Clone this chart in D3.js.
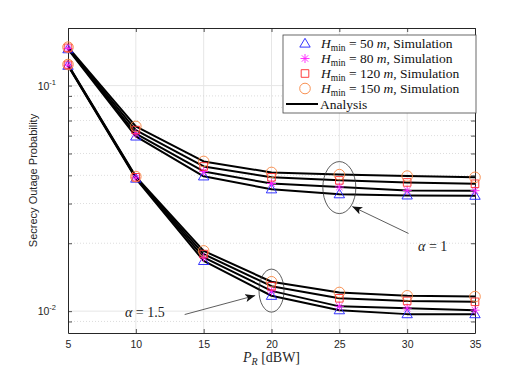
<!DOCTYPE html>
<html>
<head>
<meta charset="utf-8">
<script src="https://cdn.jsdelivr.net/npm/d3@7"></script>
<style>
  body { margin: 0; background: #fff; }
  svg { display: block; }
</style>
</head>
<body>
<div id="chart"></div>
<script>
// secrecy outage probability vs relay power

var pr = [5, 10, 15, 20, 25, 30, 35];
var hminLabels = ['50', '80', '120', '150'];

// alpha = 1
var a1H50 = [0.145, 0.0595, 0.0396, 0.0347, 0.0330, 0.0326, 0.0325];
var a1H80 = [0.146, 0.0613, 0.0416, 0.0368, 0.0355, 0.0343, 0.0342];
var a1H120 = [0.147, 0.0635, 0.0438, 0.0392, 0.0380, 0.0372, 0.0367];
var a1H150 = [0.148, 0.0659, 0.0461, 0.0412, 0.0403, 0.0397, 0.0392];

// alpha = 1.5
var a15H50 = [0.1225, 0.0387, 0.0167, 0.0117, 0.0101, 0.0097, 0.0097];
var a15H80 = [0.1230, 0.0390, 0.0173, 0.0123, 0.0105, 0.0103, 0.0101];
var a15H120 = [0.1235, 0.0392, 0.0179, 0.0129, 0.0114, 0.0111, 0.0110];
var a15H150 = [0.1240, 0.0395, 0.0185, 0.0135, 0.0121, 0.0117, 0.0116];

var xTicks = [5, 10, 15, 20, 25, 30, 35];
var yMajor = [0.01, 0.1];
var yMinor = [0.009, 0.02, 0.03, 0.04, 0.05, 0.06, 0.07, 0.08, 0.09];

var opts = {
  width: 526,
  height: 374,
  left: 68,
  right: 475,
  top: 28,
  bottom: 333
};

var styles = [
  { marker: 'triangle', color: '#1f1fff' },
  { marker: 'star', color: '#ff1fff' },
  { marker: 'square', color: '#ff2a2a' },
  { marker: 'circle', color: '#f7843f' }
];

var groups = [
  [a1H50, a1H80, a1H120, a1H150],
  [a15H50, a15H80, a15H120, a15H150]
];

var svg = d3.select('#chart').append('svg')
  .attr('width', opts.width)
  .attr('height', opts.height);

svg.append('rect').attr('width', opts.width).attr('height', opts.height).attr('fill', '#fff');

var x = d3.scaleLinear().domain([5, 35]).range([opts.left, opts.right]);
var y = d3.scaleLog().domain([0.008, 0.18]).range([opts.bottom, opts.top]);

var axisColor = '#262626';

// grid
var grid = svg.append('g');
grid.selectAll('line.xg').data(xTicks.slice(1, -1)).enter().append('line')
  .attr('x1', function(d) { return x(d); }).attr('x2', function(d) { return x(d); })
  .attr('y1', opts.top).attr('y2', opts.bottom)
  .attr('stroke', '#e6e6e6').attr('stroke-width', 1);
grid.selectAll('line.ym').data(yMinor).enter().append('line')
  .attr('x1', opts.left).attr('x2', opts.right)
  .attr('y1', function(d) { return y(d); }).attr('y2', function(d) { return y(d); })
  .attr('stroke', '#d4d4d4').attr('stroke-width', 0.8).attr('stroke-dasharray', '1,2');
grid.selectAll('line.yg').data(yMajor).enter().append('line')
  .attr('x1', opts.left).attr('x2', opts.right)
  .attr('y1', function(d) { return y(d); }).attr('y2', function(d) { return y(d); })
  .attr('stroke', '#e6e6e6').attr('stroke-width', 1);

// axes (ticks inside, box on)
var xAxis = d3.axisBottom(x).tickValues(xTicks).tickSizeInner(-4).tickSizeOuter(0).tickPadding(8);
var gx = svg.append('g').attr('transform', 'translate(0,' + opts.bottom + ')').call(xAxis);
var gxTop = svg.append('g').attr('transform', 'translate(0,' + opts.top + ')')
  .call(d3.axisTop(x).tickValues(xTicks).tickSizeInner(-4).tickSizeOuter(0).tickFormat(''));

var yAll = yMajor.concat(yMinor);
var gy = svg.append('g').attr('transform', 'translate(' + opts.left + ',0)')
  .call(d3.axisLeft(y).tickValues(yAll).tickSizeInner(-4).tickSizeOuter(0).tickFormat(''));
var gyR = svg.append('g').attr('transform', 'translate(' + opts.right + ',0)')
  .call(d3.axisRight(y).tickValues(yAll).tickSizeInner(-4).tickSizeOuter(0).tickFormat(''));

[gx, gxTop, gy, gyR].forEach(function(g) {
  g.select('.domain').attr('stroke', axisColor).attr('stroke-width', 1);
  g.selectAll('.tick line').attr('stroke', axisColor).attr('stroke-width', 0.8);
});
gx.selectAll('.tick text')
  .attr('fill', axisColor)
  .style('font-family', 'Liberation Sans, Arial, sans-serif')
  .style('font-size', '10.5px');

// log tick labels 10^-1, 10^-2
var yLab = svg.append('g').selectAll('text').data(yMajor).enter().append('text')
  .attr('x', opts.left - 12)
  .attr('y', function(d) { return y(d) + 4; })
  .attr('text-anchor', 'end')
  .attr('fill', axisColor)
  .style('font-family', 'Liberation Sans, Arial, sans-serif')
  .style('font-size', '10.5px');
yLab.append('tspan').text('10');
yLab.append('tspan').attr('dy', -5).style('font-size', '7.5px')
  .text(function(d) { return '-' + Math.round(-Math.log10(d)); });

// axis labels
svg.append('text')
  .attr('transform', 'translate(37,' + ((opts.top + opts.bottom) / 2) + ') rotate(-90)')
  .attr('text-anchor', 'middle')
  .attr('fill', axisColor)
  .style('font-family', 'Liberation Sans, Arial, sans-serif')
  .style('font-size', '11px')
  .text('Secrecy Outage Probability');

var xl = svg.append('text')
  .attr('x', (opts.left + opts.right) / 2)
  .attr('y', 362)
  .attr('text-anchor', 'middle')
  .attr('fill', axisColor)
  .style('font-family', 'Liberation Serif, Times New Roman, serif')
  .style('font-size', '14px');
xl.append('tspan').style('font-style', 'italic').text('P');
xl.append('tspan').attr('dy', 3).style('font-style', 'italic').style('font-size', '10px').text('R');
xl.append('tspan').attr('dy', -3).text(' [dBW]');

// analysis curves
var line = d3.line()
  .x(function(d, i) { return x(pr[i]); })
  .y(function(d) { return y(d); });

var curves = svg.append('g');
groups.forEach(function(group) {
  curves.selectAll(null).data(group).enter().append('path')
    .attr('d', line)
    .attr('fill', 'none')
    .attr('stroke', '#000')
    .attr('stroke-width', 2)
    .attr('stroke-linejoin', 'round');
});

// markers
var markerPath = function(type) {
  if (type === 'triangle') return 'M0,-5.2L5.2,3.6L-5.2,3.6Z';
  if (type === 'square') return 'M-3.8,-3.8H3.8V3.8H-3.8Z';
  if (type === 'circle') return 'M5.3,0A5.3,5.3 0 1,1 -5.3,0A5.3,5.3 0 1,1 5.3,0Z';
  return 'M0,-4.5V4.5M-4.5,0H4.5M-3.2,-3.2L3.2,3.2M-3.2,3.2L3.2,-3.2';
};

var marks = svg.append('g');
groups.forEach(function(group) {
  group.forEach(function(series, s) {
    marks.selectAll(null).data(series).enter().append('path')
      .attr('transform', function(d, i) { return 'translate(' + x(pr[i]) + ',' + y(d) + ')'; })
      .attr('d', markerPath(styles[s].marker))
      .attr('fill', 'none')
      .attr('stroke', styles[s].color)
      .attr('stroke-width', 0.9);
  });
});

// annotations
var serif = 'Liberation Serif, Times New Roman, serif';
svg.append('defs').append('marker')
  .attr('id', 'arrow')
  .attr('viewBox', '0 0 10 8')
  .attr('refX', 10).attr('refY', 4)
  .attr('markerWidth', 10).attr('markerHeight', 8)
  .attr('markerUnits', 'userSpaceOnUse')
  .attr('orient', 'auto')
  .append('path').attr('d', 'M0,0L10,4L0,8L2.5,4Z').attr('fill', '#111');

var ellipses = [
  { cx: 25, cy: 0.0353, rx: 16.5, ry: 26 },
  { cx: 20, cy: 0.01233, rx: 12.5, ry: 21.5 }
];
svg.selectAll('ellipse').data(ellipses).enter().append('ellipse')
  .attr('cx', function(d) { return x(d.cx); })
  .attr('cy', function(d) { return y(d.cy); })
  .attr('rx', function(d) { return d.rx; })
  .attr('ry', function(d) { return d.ry; })
  .attr('fill', 'none').attr('stroke', '#333').attr('stroke-width', 0.8);

var arrows = [
  { x1: 30.1, y1: 0.0221, x2: 25.95, y2: 0.0291 },
  { x1: 13.6, y1: 0.00966, x2: 18.8, y2: 0.01173 }
];
svg.selectAll('line.arrow').data(arrows).enter().append('line')
  .attr('x1', function(d) { return x(d.x1); }).attr('y1', function(d) { return y(d.y1); })
  .attr('x2', function(d) { return x(d.x2); }).attr('y2', function(d) { return y(d.y2); })
  .attr('stroke', '#333').attr('stroke-width', 0.8)
  .attr('marker-end', 'url(#arrow)');

var alphaLabels = [
  { x: 30.8, y: 0.01856, val: '1' },
  { x: 9.2, y: 0.00946, val: '1.5' }
];
var al = svg.selectAll('text.alpha').data(alphaLabels).enter().append('text')
  .attr('x', function(d) { return x(d.x); })
  .attr('y', function(d) { return y(d.y); })
  .attr('fill', '#222')
  .style('font-family', serif)
  .style('font-size', '14px');
al.append('tspan').style('font-style', 'italic').text('\u03b1');
al.append('tspan').text(function(d) { return ' = ' + d.val; });

// legend
var legend = svg.append('g').attr('transform', 'translate(283,35)');
legend.append('rect')
  .attr('width', 193).attr('height', 78)
  .attr('fill', '#fff').attr('stroke', '#444').attr('stroke-width', 0.8);

var rows = legend.selectAll('g.row').data(hminLabels).enter().append('g')
  .attr('transform', function(d, i) { return 'translate(0,' + (8.5 + i * 15) + ')'; });
rows.append('path')
  .attr('transform', 'translate(22,0)')
  .attr('d', function(d, i) { return markerPath(styles[i].marker); })
  .attr('fill', 'none')
  .attr('stroke', function(d, i) { return styles[i].color; })
  .attr('stroke-width', 0.9);
var lt = rows.append('text')
  .attr('x', 38).attr('y', 4.5)
  .attr('fill', '#111')
  .style('font-family', serif)
  .style('font-size', '13.5px');
lt.append('tspan').style('font-style', 'italic').text('H');
lt.append('tspan').attr('dy', 3).style('font-size', '9.5px').text('min');
lt.append('tspan').attr('dy', -3).text(function(d) { return ' = ' + d + ' '; });
lt.append('tspan').style('font-style', 'italic').text('m');
lt.append('tspan').text(', Simulation');

legend.append('line')
  .attr('x1', 3).attr('x2', 35).attr('y1', 69).attr('y2', 69)
  .attr('stroke', '#000').attr('stroke-width', 2);
legend.append('text')
  .attr('x', 37).attr('y', 73.5)
  .attr('fill', '#111')
  .style('font-family', serif)
  .style('font-size', '13.5px')
  .text('Analysis');
</script>
</body>
</html>
